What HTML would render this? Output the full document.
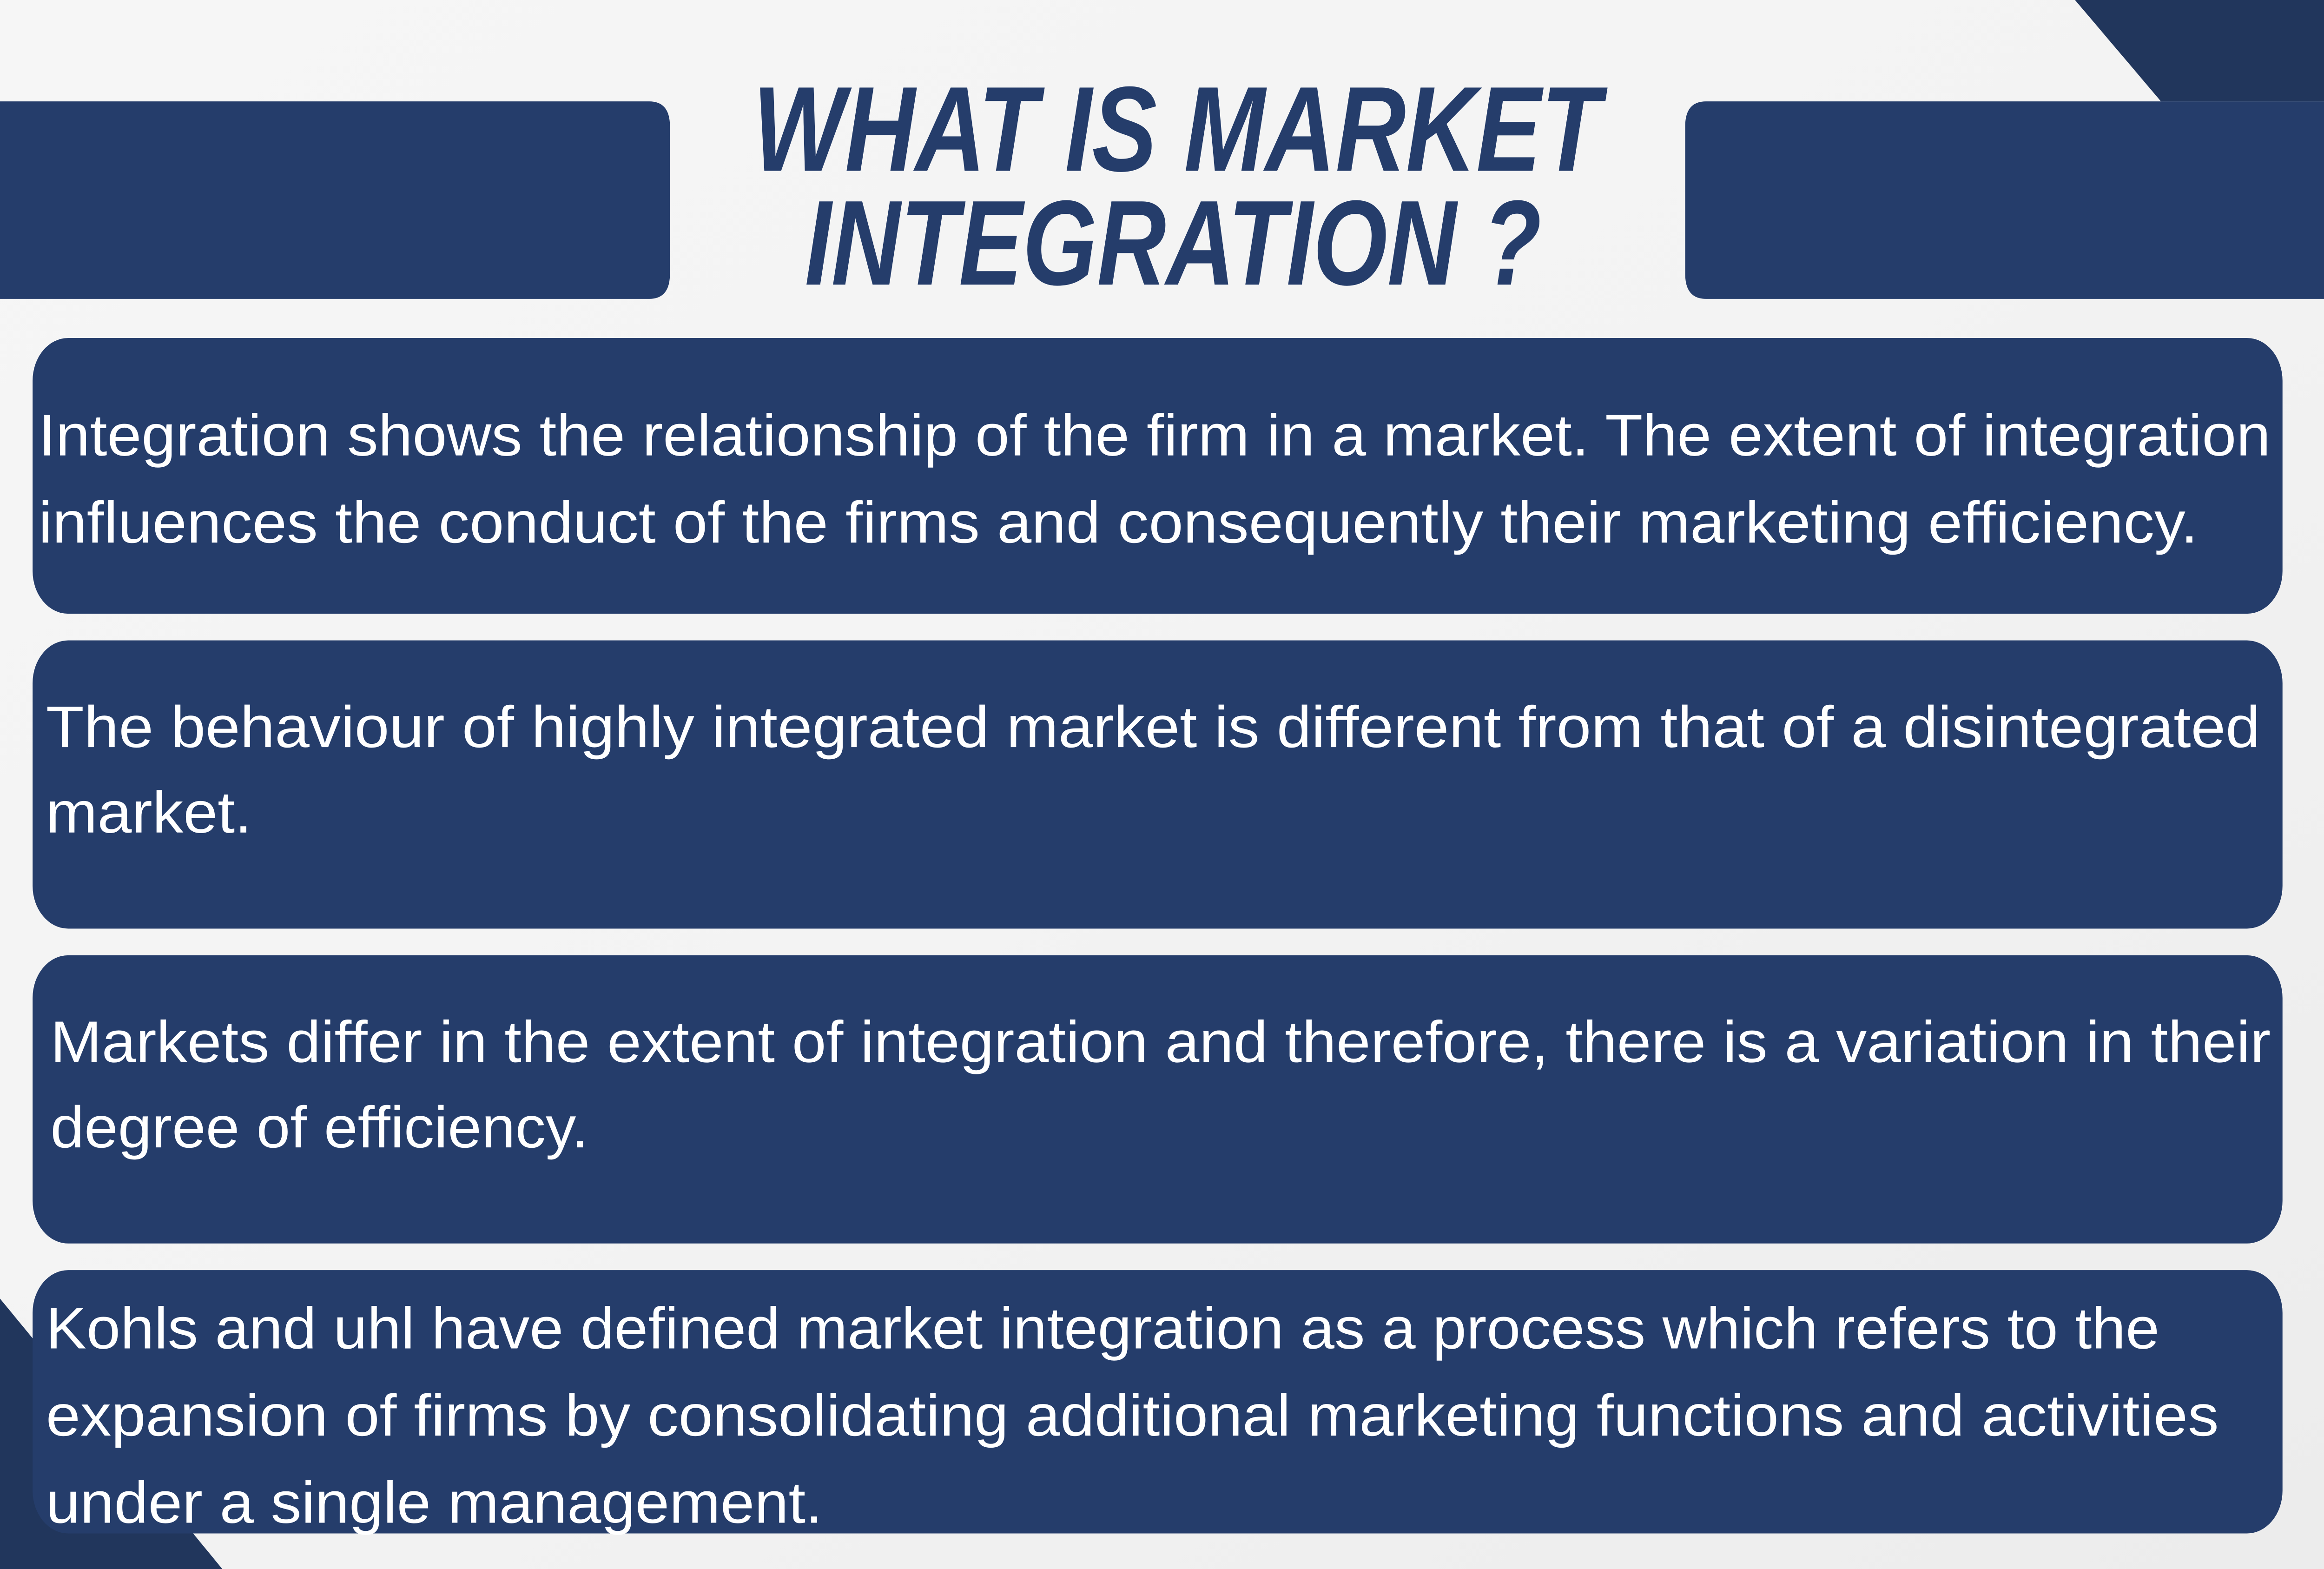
<!DOCTYPE html>
<html>
<head>
<meta charset="utf-8">
<style>
html,body{margin:0;padding:0;width:100%;height:100%;overflow:hidden;background:#f4f4f4;}
svg{display:block;position:absolute;left:0;top:0;width:100vw;height:100vh;}
text{font-family:"Liberation Sans",sans-serif;}
</style>
</head>
<body>
<svg viewBox="0 0 1568 882" preserveAspectRatio="none" xmlns="http://www.w3.org/2000/svg">
  <defs>
    <linearGradient id="bg" x1="0" y1="0" x2="1" y2="1">
      <stop offset="0" stop-color="#f6f6f6"/>
      <stop offset="0.5" stop-color="#f3f3f3"/>
      <stop offset="1" stop-color="#ececec"/>
    </linearGradient>
  </defs>
  <rect x="0" y="0" width="1568" height="882" fill="url(#bg)"/>
  <polygon points="1400,0 1568,0 1568,57 1458,57" fill="#21365c"/>
  <polygon points="0,730 150,882 0,882" fill="#21365c"/>
  <path d="M0,57 H438 Q452,57 452,71 V154 Q452,168 438,168 H0 Z" fill="#253d6b"/>
  <path d="M1568,57 H1151 Q1137,57 1137,71 V154 Q1137,168 1151,168 H1568 Z" fill="#253d6b"/>
  <g fill="#253d6b" font-weight="bold" font-style="italic" font-size="68">
    <text x="508" y="96" textLength="572" lengthAdjust="spacingAndGlyphs">WHAT IS MARKET</text>
    <text x="543" y="160" textLength="497" lengthAdjust="spacingAndGlyphs">INTEGRATION ?</text>
  </g>
  <g>
    <rect x="22" y="190" width="1518" height="155" rx="24" fill="#253d6b"/>
    <g fill="#ffffff" font-size="33">
      <text x="26" y="256" textLength="1506" lengthAdjust="spacingAndGlyphs">Integration shows the relationship of the firm in a market. The extent of integration</text>
      <text x="26" y="305" textLength="1457" lengthAdjust="spacingAndGlyphs">influences the conduct of the firms and consequently their marketing efficiency.</text>
    </g>
  </g>
  <g>
    <rect x="22" y="360" width="1518" height="162" rx="24" fill="#253d6b"/>
    <g fill="#ffffff" font-size="33">
      <text x="31" y="420" textLength="1494" lengthAdjust="spacingAndGlyphs">The  behaviour of highly integrated market is different from that of a disintegrated</text>
      <text x="31" y="468" textLength="139" lengthAdjust="spacingAndGlyphs">market.</text>
    </g>
  </g>
  <g>
    <rect x="22" y="537" width="1518" height="162" rx="24" fill="#253d6b"/>
    <g fill="#ffffff" font-size="33">
      <text x="34" y="597" textLength="1498" lengthAdjust="spacingAndGlyphs">Markets differ in the extent of integration and therefore, there is a variation in their</text>
      <text x="34" y="645" textLength="363" lengthAdjust="spacingAndGlyphs">degree of efficiency.</text>
    </g>
  </g>
  <g>
    <rect x="22" y="714" width="1518" height="148" rx="24" fill="#253d6b"/>
    <g fill="#ffffff" font-size="33">
      <text x="31" y="758" textLength="1426" lengthAdjust="spacingAndGlyphs">Kohls and uhl have defined market integration as a process which refers to the</text>
      <text x="31" y="807" textLength="1466" lengthAdjust="spacingAndGlyphs">expansion of firms by consolidating additional marketing functions and activities</text>
      <text x="31" y="856" textLength="524" lengthAdjust="spacingAndGlyphs">under a single management.</text>
    </g>
  </g>
</svg>
</body>
</html>
